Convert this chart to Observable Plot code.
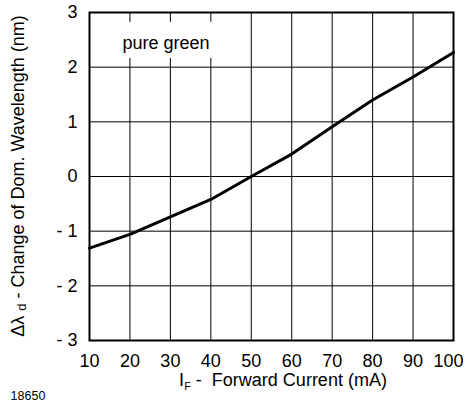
<!DOCTYPE html>
<html>
<head>
<meta charset="utf-8">
<script src="https://cdn.jsdelivr.net/npm/d3@7"></script>
<script src="https://cdn.jsdelivr.net/npm/@observablehq/plot@0.6"></script>
<style>
  html, body { margin: 0; padding: 0; background: #fff; }
  svg { display: block; }
</style>
</head>
<body>
<div id="chart"></div>
<script>
// Data
const current = [10, 20, 30, 40, 50, 60, 70, 80, 90, 100];           // I_F (mA)
const wavelengthShift = [-1.31, -1.06, -0.74, -0.42, 0, 0.41, 0.91, 1.40, 1.82, 2.27]; // Δλd (nm)
const xTicks = [10, 20, 30, 40, 50, 60, 70, 80, 90, 100];
const yTicks = [-3, -2, -1, 0, 1, 2, 3];
const seriesLabel = ["pure green"];
const labelX = [28.9];
const labelY = [2.43];
const labelBoxX = [16, 41.5];
const labelBoxY = [2.16, 2.82];

const data = current.map((c, i) => ({ current: c, shift: wavelengthShift[i] }));
const labels = seriesLabel.map((t, i) => ({ text: t, x: labelX[i], y: labelY[i] }));
const boxes = [{ x1: labelBoxX[0], x2: labelBoxX[1], y1: labelBoxY[0], y2: labelBoxY[1] }];
const xTicksInner = xTicks.slice(0, -1);
const xTickLast = xTicks.slice(-1);

const W = 467, H = 407;
const font = "Liberation Sans, Arial, Helvetica, sans-serif";

const svg = Plot.plot({
  width: W,
  height: H,
  marginLeft: 89,
  marginRight: 14,
  marginTop: 12,
  marginBottom: 67,
  style: { fontFamily: font, fontSize: "18px", color: "black", background: "white" },
  x: { domain: [10, 100], label: null },
  y: { domain: [-3, 3], label: null },
  marks: [
    Plot.gridX(xTicks, { stroke: "black", strokeOpacity: 1, strokeWidth: 1 }),
    Plot.gridY(yTicks, { stroke: "black", strokeOpacity: 1, strokeWidth: 1 }),
    Plot.rect(boxes, { x1: "x1", x2: "x2", y1: "y1", y2: "y2", fill: "white" }),
    Plot.text(labels, { x: "x", y: "y", text: "text", fontSize: 18, fill: "black" }),
    Plot.line(data, { x: "current", y: "shift", stroke: "black", strokeWidth: 3 }),
    Plot.frame({ stroke: "black", strokeWidth: 2 }),
    Plot.axisX(xTicksInner, { tickSize: 0, tickPadding: 14, fontSize: 18, label: null }),
    Plot.axisX(xTickLast, { tickSize: 0, tickPadding: 14, fontSize: 18, label: null, dx: -5 }),
    Plot.axisY(yTicks, {
      tickSize: 0, tickPadding: 12, fontSize: 18, label: null,
      tickFormat: d => d < 0 ? `- ${-d}` : `${d}`
    })
  ]
});

const s = d3.select(svg);

// y-axis title with subscript
const yt = s.append("text")
  .attr("transform", `translate(18, ${(12 + 340) / 2}) rotate(-90)`)
  .attr("text-anchor", "middle")
  .attr("dominant-baseline", "central")
  .attr("font-family", font)
  .attr("font-size", 18)
  .attr("fill", "black");
yt.append("tspan").text("Δλ ");
yt.append("tspan").attr("font-size", 13).attr("dy", 3).text("d");
yt.append("tspan").attr("dy", -3).text(" - Change of Dom. Wavelength (nm)");

// x-axis title with subscript
const xt = s.append("text")
  .attr("x", 283)
  .attr("y", 386)
  .attr("text-anchor", "middle")
  .attr("font-family", font)
  .attr("font-size", 18)
  .attr("fill", "black");
xt.append("tspan").text("I");
xt.append("tspan").attr("font-size", 11).attr("dy", 4).text("F");
xt.append("tspan").attr("dy", -4).text(" -  Forward Current (mA)");

// figure number
s.append("text")
  .attr("x", 28)
  .attr("y", 400)
  .attr("font-family", font)
  .attr("font-size", 12.5)
  .attr("fill", "black")
  .text("18650");

document.getElementById("chart").appendChild(svg);
</script>
</body>
</html>
